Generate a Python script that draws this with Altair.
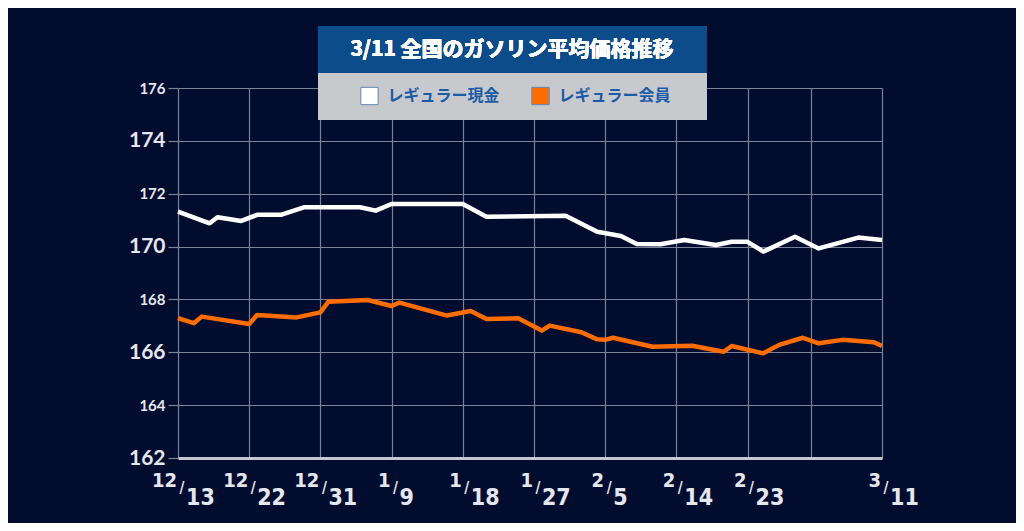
#%%
import pandas as pd
import altair as alt

#%% data
start = "2023-12-13"

cash_dates = ["2023-12-13", "2023-12-17", "2023-12-18", "2023-12-21", "2023-12-23",
              "2023-12-26", "2023-12-29", "2024-01-05", "2024-01-07", "2024-01-09",
              "2024-01-18", "2024-01-21", "2024-01-31", "2024-02-04", "2024-02-07",
              "2024-02-09", "2024-02-12", "2024-02-15", "2024-02-19", "2024-02-21",
              "2024-02-23", "2024-02-25", "2024-02-29", "2024-03-03", "2024-03-08",
              "2024-03-11"]
cash_values = [171.32, 170.88, 171.11, 170.97, 171.20,
               171.20, 171.49, 171.49, 171.36, 171.61,
               171.61, 171.13, 171.17, 170.56, 170.40,
               170.10, 170.09, 170.25, 170.06, 170.18,
               170.18, 169.81, 170.37, 169.93, 170.34,
               170.25]

member_dates = ["2023-12-13", "2023-12-15", "2023-12-16", "2023-12-22", "2023-12-23",
                "2023-12-28", "2023-12-31", "2024-01-01", "2024-01-06", "2024-01-09",
                "2024-01-10", "2024-01-16", "2024-01-19", "2024-01-21", "2024-01-25",
                "2024-01-28", "2024-01-29", "2024-02-02", "2024-02-04", "2024-02-05",
                "2024-02-06", "2024-02-11", "2024-02-16", "2024-02-20", "2024-02-21",
                "2024-02-25", "2024-02-27", "2024-03-01", "2024-03-03", "2024-03-06",
                "2024-03-10", "2024-03-11"]
member_values = [167.29, 167.10, 167.35, 167.07, 167.41,
                 167.32, 167.51, 167.91, 167.98, 167.75,
                 167.88, 167.39, 167.56, 167.26, 167.29,
                 166.82, 167.01, 166.76, 166.49, 166.47,
                 166.55, 166.21, 166.25, 166.02, 166.24,
                 165.96, 166.28, 166.55, 166.34, 166.47,
                 166.38, 166.24]

grid_dates = ["2023-12-13", "2023-12-22", "2023-12-31", "2024-01-09", "2024-01-18",
              "2024-01-27", "2024-02-05", "2024-02-14", "2024-02-23", "2024-03-02",
              "2024-03-11"]
label_dates = ["2023-12-13", "2023-12-22", "2023-12-31", "2024-01-09", "2024-01-18",
               "2024-01-27", "2024-02-05", "2024-02-14", "2024-02-23", "2024-03-11"]
label_num = ["12", "12", "12", "1", "1", "1", "2", "2", "2", "3"]
label_den = ["13", "22", "31", "9", "18", "27", "5", "14", "23", "11"]

y_ticks = [162, 164, 166, 168, 170, 172, 174, 176]

title_text = "3/11 全国のガソリン平均価格推移"
series_names = ["レギュラー現金", "レギュラー会員"]
series_colors = ["#ffffff", "#ff6c00"]

#%% tables
t0 = pd.Timestamp(start)
def days(ds):
    return [(pd.Timestamp(d) - t0).days for d in ds]

lines = pd.concat([
    pd.DataFrame({"day": days(cash_dates), "price": cash_values, "kind": series_names[0]}),
    pd.DataFrame({"day": days(member_dates), "price": member_values, "kind": series_names[1]}),
])
ticks = pd.DataFrame({"day": days(label_dates), "num": label_num, "den": label_den})

W, H = 704, 370
BG = "#020c2e"
GRID = "#7c8399"
LABEL = "#e4e7ef"
XFONT = "DejaVu Sans Condensed, DejaVu Sans, sans-serif"

x_scale = alt.Scale(domain=[0, days(grid_dates)[-1]], nice=False, zero=False)
y_scale = alt.Scale(domain=[162, 176], nice=False, zero=False)

#%% chart
chart_lines = (alt.Chart(lines)
    .mark_line(strokeWidth=4.5, strokeJoin="round")
    .encode(
        x=alt.X("day:Q", scale=x_scale,
                axis=alt.Axis(values=days(grid_dates), labels=False, ticks=False, title=None,
                              grid=True, gridColor=GRID, gridWidth=1.2,
                              domainColor="#c4c7d2", domainWidth=3)),
        y=alt.Y("price:Q", scale=y_scale,
                axis=alt.Axis(values=y_ticks, title=None, grid=True, gridColor=GRID,
                              gridWidth=1.2, domain=False, tickColor=GRID, tickSize=10,
                              tickWidth=1.2, labelColor=LABEL, labelFont="Lato",
                              labelFontWeight="bold", labelPadding=3,
                              labelFontSize={"condition": {"test": "datum.value % 4 == 2", "value": 21},
                                             "value": 15})),
        color=alt.Color("kind:N", scale=alt.Scale(domain=series_names, range=series_colors),
                        legend=None),
        detail="kind:N",
    )
)

# fraction-style date labels under the axis
num = (alt.Chart(ticks)
    .mark_text(align="right", baseline="alphabetic", dx=-1, font=XFONT, fontSize=20,
               fontWeight="bold", color=LABEL)
    .encode(x=alt.X("day:Q", scale=x_scale), y=alt.value(H + 29), text="num:N")
)
slash = (alt.Chart(ticks)
    .mark_text(align="center", baseline="alphabetic", dx=4, font=XFONT, fontSize=15,
               fontWeight="bold", color=LABEL)
    .encode(x=alt.X("day:Q", scale=x_scale), y=alt.value(H + 35), text=alt.value("/"))
)
den = (alt.Chart(ticks)
    .mark_text(align="left", baseline="alphabetic", dx=8, font=XFONT, fontSize=23,
               fontWeight="bold", color=LABEL)
    .encode(x=alt.X("day:Q", scale=x_scale), y=alt.value(H + 47), text="den:N")
)

# title / legend box on top of the plot
box_blue = alt.Chart(ticks).mark_rect(color="#0d4c8a").encode(
    x=alt.value(140), x2=alt.value(529), y=alt.value(-62), y2=alt.value(-15))
box_gray = alt.Chart(ticks).mark_rect(color="#c8c9cc").encode(
    x=alt.value(140), x2=alt.value(529), y=alt.value(-15), y2=alt.value(32))
title = alt.Chart(ticks).mark_text(
    font="Noto Sans CJK JP", fontSize=21, fontWeight="bold", color="#ffffff",
    align="center", baseline="middle").encode(
    x=alt.value(334), y=alt.value(-38), text=alt.value(title_text))

legend_df = pd.DataFrame({"kind": series_names, "lx": [191.5, 362.5]})
leg_sq = alt.Chart(legend_df).mark_square(size=300, opacity=1, filled=True,
                                          stroke="#5f86b4", strokeWidth=1).encode(
    x=alt.X("lx:Q", scale=None), y=alt.value(8),
    color=alt.Color("kind:N", scale=alt.Scale(domain=series_names, range=series_colors),
                    legend=None))
leg_txt = alt.Chart(legend_df).mark_text(
    font="Noto Sans CJK JP", fontSize=16, fontWeight="bold", color="#1c5ba6",
    align="left", baseline="middle", dx=18).encode(
    x=alt.X("lx:Q", scale=None), y=alt.value(8), text="kind:N")

chart = (alt.layer(chart_lines, num, slash, den, box_blue, box_gray, title, leg_sq, leg_txt)
    .resolve_scale(color="independent")
    .properties(width=W, height=H, background=BG,
                autosize=alt.AutoSizeParams(type="none"),
                padding={"left": 170, "top": 80, "right": 134, "bottom": 65},
                usermeta={"embedOptions": {"defaultStyle": "body{background:%s;}" % BG}})
    .configure_view(stroke=None)
)

chart.save("out.html", embed_options={"renderer": "svg", "actions": False})
